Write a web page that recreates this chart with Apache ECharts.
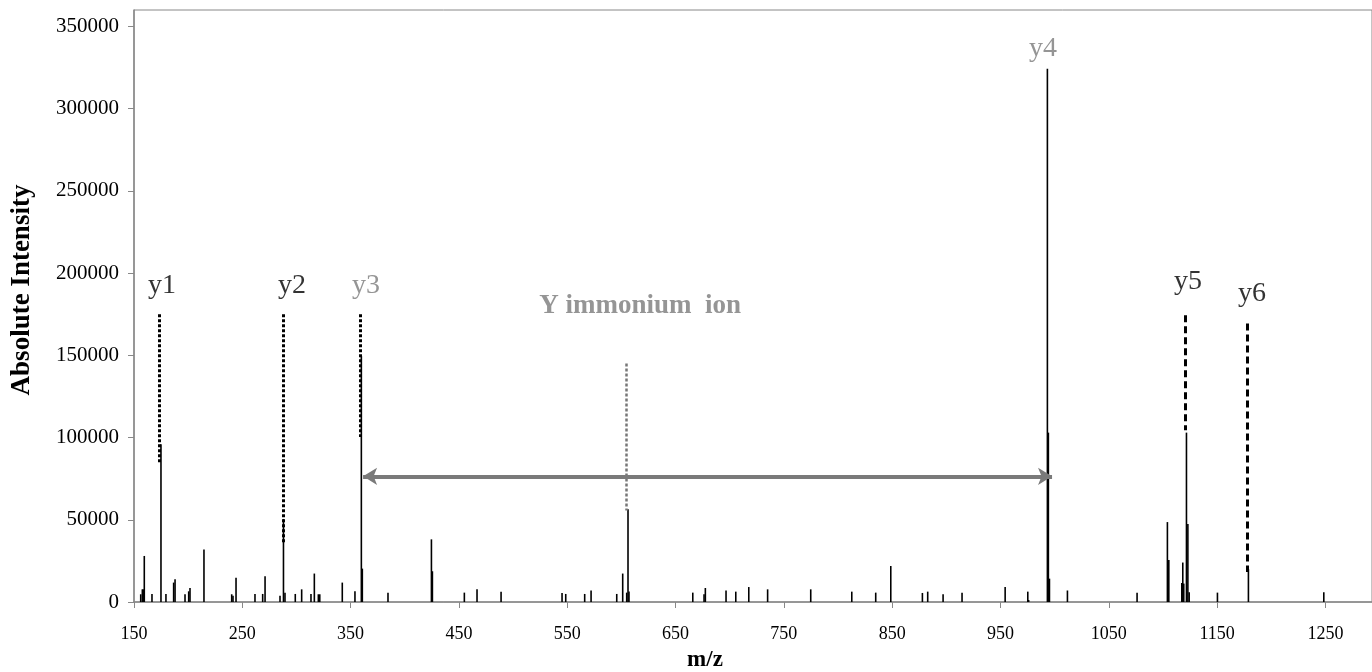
<!DOCTYPE html>
<html>
<head>
<meta charset="utf-8">
<script src="https://cdn.jsdelivr.net/npm/echarts@6/dist/echarts.min.js"></script>
<style>
html,body{margin:0;padding:0;background:#fff;}
#chart{width:1372px;height:672px;}
</style>
</head>
<body>
<div id="chart"></div>
<script>
// ---- data ----
const peakMz = [156.2,157.7,158.6,159.5,166.6,174.9,179.5,186.6,187.9,197.1,200.5,201.7,214.6,240.2,241.4,244.2,261.7,268.8,271.0,284.8,288.0,289.4,298.9,304.8,313.4,316.5,320.2,321.5,342.3,354.0,359.9,360.8,384.5,424.6,425.5,455.0,466.7,488.9,545.2,548.6,566.1,572.0,595.7,601.2,604.9,606.1,607.0,665.9,676.3,677.5,696.6,705.6,717.6,735.0,774.8,812.7,834.8,848.7,877.9,882.8,897.0,914.5,954.3,975.2,976.0,993.3,994.2,995.2,1011.8,1076.1,1104.1,1105.4,1117.4,1118.3,1119.2,1121.7,1123.0,1124.2,1150.3,1178.9,1248.5];
const peakIntensity = [4700,7700,7700,28000,4900,96000,4900,11800,13800,4700,6500,8500,31900,4700,3800,14800,4900,4900,15600,3800,50500,5700,4900,7700,4900,17300,4700,4700,11800,6500,149500,20300,5700,38100,18700,5700,7700,6300,5500,4900,4900,7000,4900,17300,5700,56400,6400,5700,4700,8500,7000,6300,9100,7700,7700,6300,5700,21900,5500,6300,4700,5700,9100,6300,1200,324300,103000,14200,7000,5700,48600,25500,11600,24000,11200,103000,47400,6000,5700,19900,6000];

// annotation guide lines (m/z, top intensity, bottom intensity)
const guideNames = ['y1','y2','y3','imm','y5','y6'];
const guideMz = [173.3,287.8,359.0,604.7,1120.6,1177.7];
const guideTop = [175000,175000,175000,145000,174300,169300];
const guideBottom = [85000,35900,100300,55700,104400,18200];

// double arrow between y3 and y4
const arrowMz = [361.5, 997.6];
const arrowIntensity = 76400;

// annotation texts
const labelText = ['y1','y2','y3','Y immonium  ion','y4','y5','y6'];
const labelMz = [175.9,295.9,364.2,617.2,989.3,1123.2,1182.3];
const labelIntensity = [192600,192600,192600,179800,336600,195000,187700];

// axis ticks
const xStart = 150;
const xTicks = [150,250,350,450,550,650,750,850,950,1050,1150,1250];
const yTicks = [0,50000,100000,150000,200000,250000,300000,350000];
const xEnd = 1293;
const yMax = 360000;

// ---- chart ----
const FONT = "'Liberation Serif','Times New Roman',serif";
const GRAY = '#7a7a7a';
const grayLabels = {'y3':1,'y4':1,'Y immonium  ion':1};

const chart = echarts.init(document.getElementById('chart'));

const guideStyle = {
  y1:{color:'#000',type:[3,2],width:3},
  y2:{color:'#000',type:[3,2],width:3},
  y3:{color:'#000',type:[3,2],width:3},
  imm:{color:'#777',type:[3,2],width:2.5},
  y5:{color:'#000',type:[7,4],width:3},
  y6:{color:'#000',type:[7,4],width:3}
};

const markLines = guideNames.map((n,i)=>[
  {coord:[guideMz[i]-xStart, guideTop[i]], lineStyle:guideStyle[n], symbol:'none'},
  {coord:[guideMz[i]-xStart, guideBottom[i]], symbol:'none'}
]);
markLines.push([
  {coord:[arrowMz[0]-xStart, arrowIntensity], lineStyle:{color:GRAY,width:4,type:'solid'}},
  {coord:[arrowMz[1]-xStart, arrowIntensity]}
]);

chart.setOption({
  animation:false,
  backgroundColor:'#fff',
  grid:{left:134,right:0,top:10,bottom:70,show:true,borderColor:'#888',borderWidth:1},
  xAxis:{
    type:'value', min:0, max:xEnd-xStart,
    axisLine:{show:true,onZero:false,lineStyle:{color:'#888',width:1.5}},
    axisTick:{show:true,length:6,lineStyle:{color:'#888'},customValues:xTicks.map(v=>v-xStart)},
    axisLabel:{color:'#000',fontFamily:FONT,fontSize:18,margin:23,customValues:xTicks.map(v=>v-xStart),formatter:v=>String(Math.round(v+xStart))},
    splitLine:{show:false}
  },
  yAxis:{
    type:'value', min:0, max:yMax,
    axisLine:{show:true,lineStyle:{color:'#888',width:1.5}},
    axisTick:{show:true,length:6,lineStyle:{color:'#888'},customValues:yTicks},
    axisLabel:{color:'#000',fontFamily:FONT,fontSize:21,margin:15,customValues:yTicks,formatter:v=>String(v)},
    splitLine:{show:false}
  },
  graphic:[
    {type:'text',x:22,y:290,rotation:Math.PI/2,style:{text:'Absolute Intensity',font:"bold 27px 'Liberation Serif'",fill:'#000',textAlign:'center',textVerticalAlign:'middle'}},
    {type:'text',x:705,y:660,style:{text:'m/z',font:"bold 23px 'Liberation Serif'",fill:'#000',textAlign:'center',textVerticalAlign:'middle'}}
  ],
  series:[
    {
      type:'bar', barWidth:1.6, barGap:'-100%',
      itemStyle:{color:'#000'},
      data:peakMz.map((m,i)=>[m-xStart, peakIntensity[i]]),
      markLine:{silent:true,symbol:['arrow','arrow'],symbolSize:[13,14],label:{show:false},data:markLines}
    },
    {
      type:'scatter', symbolSize:1, itemStyle:{color:'transparent'}, silent:true,
      data:labelText.map((t,i)=>({
        value:[labelMz[i]-xStart, labelIntensity[i]], name:t,
        label:{show:true,position:'inside',formatter:t,
          color: grayLabels[t]? GRAY : '#000',
          fontFamily:FONT,
          fontSize: t.length>3 ? 27 : 28,
          fontWeight: t.length>3 ? 'bold' : 'normal'}
      }))
    }
  ]
});
</script>
</body>
</html>
